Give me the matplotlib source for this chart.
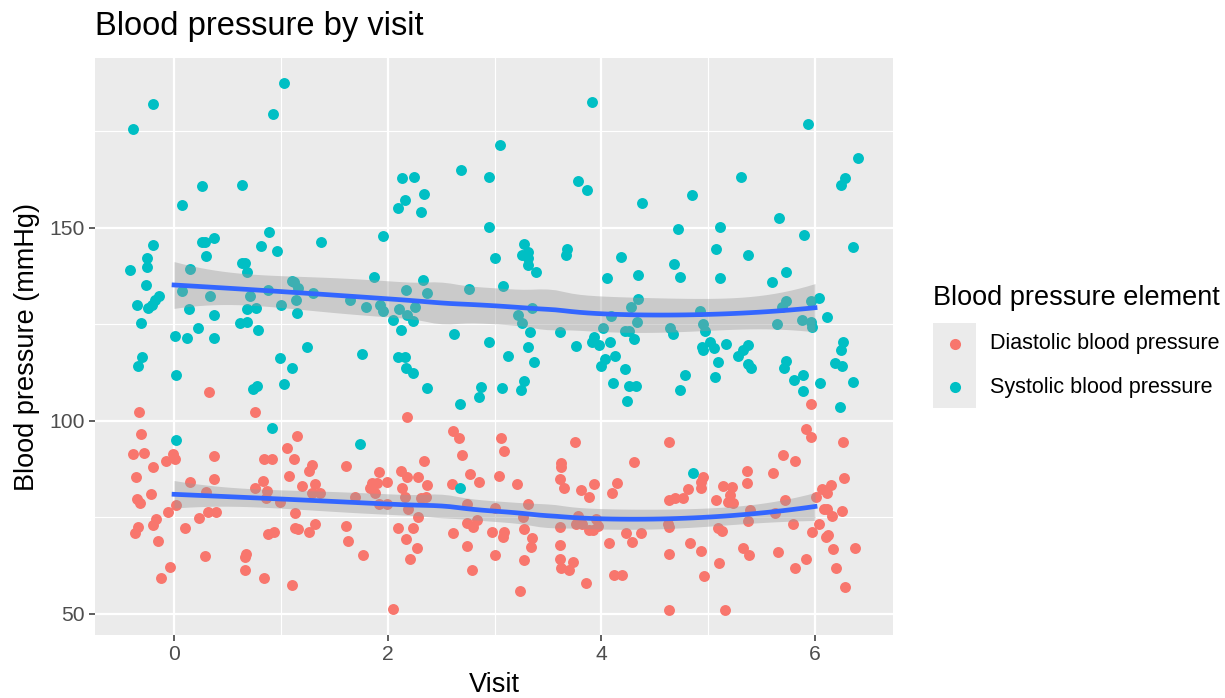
import numpy as np
import matplotlib
matplotlib.use("Agg")
from matplotlib import pyplot as plt
from matplotlib.patches import Rectangle
from matplotlib.lines import Line2D

plt.rcParams['font.family'] = ['Liberation Sans', 'DejaVu Sans']

# jittered visit positions and readings
systolic_visit = [
    -0.20, -0.38, 0.26, 0.07, -0.20, 0.26, 0.29, 0.37, 0.30, -0.25, -0.25, -0.41, 0.15, -0.26,
    -0.14, -0.18, -0.21, -0.24, -0.35, 0.07, 0.34, 0.14, 0.37, -0.31, 0.22, 0.01, 0.12, 0.37,
    -0.30, -0.34, 0.02, 0.02,
    1.03, 0.93, 0.64, 0.89, 0.81, 0.96, 0.64, 0.66, 0.68, 0.71, 0.88, 1.10, 1.00, 0.68, 0.77,
    0.62, 0.68, 0.79, 0.99, 1.10, 0.74, 0.78, 1.03, 0.92, 1.12, 1.16, 1.14, 1.30, 1.38, 1.15, 1.24,
    1.96, 1.87, 1.65, 1.80, 1.93, 1.96, 1.76, 2.13, 2.25, 2.69, 2.16, 2.10, 2.34, 2.31, 2.33,
    2.17, 2.37, 2.11, 2.26, 2.05, 2.18, 2.24, 2.12, 2.10, 2.16, 2.17, 2.24, 1.74, 2.37,
    2.95, 2.95, 2.76, 2.62, 2.95, 2.68, 2.87, 2.85, 2.68, 3.05, 3.28, 3.26, 3.31, 3.31, 3.31,
    3.39, 3.00, 3.08, 3.35, 3.22, 3.26, 3.33, 3.31, 3.13, 3.37, 3.07, 3.25, 3.28,
    3.91, 3.78, 3.87, 4.38, 3.68, 3.67, 4.18, 4.34, 4.05, 4.34, 4.28, 4.09, 4.02, 4.22, 4.26,
    4.33, 4.31, 3.61, 3.76, 3.93, 3.91, 3.98, 4.08, 4.13, 4.03, 4.00, 4.22, 4.11, 4.26, 4.32, 4.24,
    4.72, 4.68, 4.74, 4.64, 4.67, 4.74, 4.78, 5.31, 4.85, 5.11, 5.07, 5.37, 5.11, 4.92, 4.95,
    4.97, 5.17, 5.02, 4.94, 4.95, 5.05, 5.37, 5.33, 5.28, 5.09, 5.37, 5.40, 5.06, 4.86,
    5.93, 6.40, 6.28, 6.24, 5.66, 5.90, 6.36, 5.73, 5.60, 5.73, 5.69, 5.96, 6.04, 5.64, 5.88,
    5.96, 5.97, 6.11, 6.26, 6.24, 5.73, 5.71, 6.19, 6.25, 5.80, 5.89, 5.89, 6.05, 6.36, 6.23,
]
systolic_bp = [
    182.0, 175.6, 160.9, 156.0, 145.6, 146.4, 146.4, 147.4, 142.7, 142.2, 139.9, 139.1, 139.4, 135.2,
    132.4, 131.3, 130.0, 129.3, 130.0, 133.7, 132.4, 129.0, 127.5, 125.4, 124.1, 122.0, 121.5, 121.5,
    116.6, 114.2, 111.9, 95.1,
    187.6, 179.5, 161.1, 149.0, 145.3, 144.0, 140.9, 140.9, 138.6, 132.4, 134.0, 136.3, 130.0, 129.0, 129.3,
    125.4, 125.6, 123.6, 116.3, 113.7, 108.3, 109.1, 109.6, 98.2, 136.0, 134.5, 131.3, 133.2, 146.4, 128.0, 119.2,
    147.9, 137.3, 131.3, 129.5, 130.0, 128.5, 117.4, 163.0, 163.2, 165.0, 157.3, 155.2, 158.8, 154.1, 136.5,
    134.0, 133.2, 129.0, 129.5, 126.2, 127.5, 125.9, 123.6, 116.6, 116.6, 113.7, 112.5, 94.0, 108.5,
    163.2, 150.3, 134.2, 122.5, 120.5, 104.4, 108.8, 106.2, 82.6, 171.5, 145.9, 143.0, 143.8, 142.2, 140.4,
    138.6, 142.2, 135.0, 129.3, 127.5, 125.4, 123.1, 119.2, 116.8, 115.3, 108.5, 108.0, 110.4,
    182.6, 162.2, 159.8, 156.5, 144.6, 143.0, 142.5, 137.8, 137.0, 131.6, 129.5, 127.2, 124.1, 123.3, 123.3,
    125.6, 121.2, 123.1, 119.4, 121.8, 120.5, 119.7, 120.5, 116.8, 116.0, 114.2, 113.5, 109.8, 109.1, 109.1, 105.2,
    149.7, 140.7, 137.3, 124.1, 122.5, 108.0, 111.9, 163.2, 158.5, 150.3, 144.6, 143.0, 137.0, 128.5, 125.1,
    123.3, 120.0, 120.5, 119.2, 118.4, 118.9, 119.7, 118.4, 116.8, 115.3, 114.8, 113.7, 111.4, 86.5,
    177.0, 168.1, 163.0, 161.1, 152.6, 148.2, 145.1, 138.6, 136.0, 131.1, 129.5, 131.1, 131.9, 125.1, 126.2,
    125.6, 124.4, 126.9, 120.5, 118.4, 115.5, 113.7, 115.0, 114.2, 110.6, 111.9, 107.8, 109.8, 110.1, 103.6,
]

diastolic_visit = [
    0.33, -0.33, -0.31, -0.38, -0.28, -0.01, -0.08, 0.01, 0.37, -0.20, -0.36, -0.35, -0.32, -0.22,
    0.15, 0.37, 0.30, 0.02, -0.06, 0.23, 0.32, 0.39, -0.17, -0.20, -0.34, -0.37, 0.10, -0.15, 0.29,
    -0.04, -0.12,
    0.76, 0.84, 0.92, 1.06, 1.15, 1.08, 0.83, 0.76, 0.87, 0.86, 0.99, 1.13, 1.13, 0.88, 0.94,
    0.67, 0.66, 0.66, 0.84, 1.10, 1.12, 1.29, 1.26, 1.20, 1.32, 1.37, 1.29, 1.32, 1.16, 1.26,
    1.61, 1.92, 2.12, 2.18, 2.28, 2.34, 2.18, 1.85, 1.90, 1.99, 1.83, 1.88, 1.69, 2.13, 2.37,
    2.16, 2.36, 2.31, 1.92, 1.99, 2.19, 2.28, 1.61, 2.10, 2.24, 1.63, 2.17, 2.27, 1.77, 2.21, 2.05,
    2.61, 2.67, 2.70, 2.77, 2.85, 2.60, 2.74, 2.84, 2.74, 2.80, 2.61, 2.74, 2.79, 3.06, 3.09,
    3.04, 3.21, 3.31, 3.00, 3.27, 2.98, 3.09, 3.08, 3.28, 3.35, 3.34, 3.00, 3.28, 3.24,
    3.75, 4.31, 3.62, 3.62, 3.61, 3.65, 3.81, 3.88, 3.93, 4.15, 4.10, 3.78, 3.76, 3.82, 3.88,
    3.92, 3.97, 3.95, 3.61, 4.23, 4.37, 4.29, 4.07, 3.61, 3.61, 3.62, 3.73, 3.70, 4.12, 4.19, 3.86,
    4.63, 4.63, 4.69, 4.76, 4.62, 4.63, 4.63, 4.63, 5.36, 5.36, 4.95, 4.93, 4.93, 4.81, 5.14,
    5.22, 5.20, 5.19, 5.23, 5.07, 5.39, 5.37, 5.09, 5.13, 4.83, 4.93, 5.33, 5.38, 5.10, 4.96, 5.16,
    5.96, 5.92, 5.96, 6.26, 5.70, 5.81, 6.27, 5.61, 5.72, 5.63, 6.07, 6.15, 6.11, 6.01, 6.08,
    6.11, 6.16, 6.25, 5.79, 6.04, 5.97, 6.12, 6.10, 5.65, 6.17, 6.37, 5.92, 5.81, 6.20, 6.28,
]
diastolic_bp = [
    107.5, 102.3, 96.6, 91.5, 91.7, 91.5, 89.6, 90.2, 90.9, 88.1, 85.5, 79.8, 78.8, 81.1,
    84.2, 85.0, 81.6, 78.2, 76.4, 74.9, 76.4, 76.4, 74.6, 73.1, 72.5, 71.0, 72.3, 68.9, 65.0,
    62.2, 59.3,
    102.3, 90.2, 90.2, 93.0, 96.0, 85.8, 84.5, 82.6, 81.9, 80.1, 79.0, 76.2, 72.3, 70.7, 71.2,
    65.5, 64.8, 61.4, 59.3, 57.5, 90.2, 88.6, 87.0, 83.2, 83.7, 81.3, 81.3, 73.3, 72.0, 71.2,
    88.3, 86.8, 87.0, 85.5, 85.5, 89.6, 101.0, 83.9, 83.9, 84.2, 82.6, 81.3, 80.3, 82.6, 83.4,
    80.3, 80.3, 80.1, 78.5, 78.5, 77.2, 75.1, 72.8, 72.3, 72.3, 68.9, 69.4, 67.1, 65.3, 64.2, 51.3,
    97.4, 95.6, 91.2, 86.3, 84.2, 83.7, 78.5, 74.4, 73.6, 72.5, 71.0, 67.6, 61.4, 95.6, 92.2,
    85.8, 83.7, 78.5, 77.5, 75.1, 71.2, 71.2, 69.9, 72.0, 69.7, 67.4, 65.3, 64.0, 56.0,
    94.6, 89.4, 89.1, 88.1, 85.0, 82.6, 82.1, 80.3, 83.7, 83.9, 81.3, 75.4, 73.3, 73.3, 71.8,
    71.8, 72.8, 74.6, 72.5, 71.0, 71.0, 68.7, 68.4, 67.9, 64.2, 61.9, 63.5, 61.4, 60.1, 60.1, 58.0,
    94.6, 79.5, 80.1, 80.1, 73.3, 72.5, 65.5, 51.0, 87.0, 83.9, 85.5, 84.2, 82.6, 82.4, 83.2,
    82.9, 80.8, 79.0, 78.8, 79.5, 77.0, 74.1, 72.3, 71.5, 68.4, 66.3, 67.1, 65.3, 63.2, 59.8, 51.0,
    104.4, 97.9, 95.9, 94.6, 91.2, 89.6, 85.2, 86.5, 79.5, 76.2, 82.4, 83.4, 81.3, 80.3, 77.2,
    77.2, 75.4, 76.7, 73.3, 73.3, 71.2, 70.5, 70.0, 66.1, 66.8, 67.1, 64.2, 61.9, 61.9, 57.0,
]

series_names = ['Diastolic blood pressure', 'Systolic blood pressure']
series_colors = ['#F8766D', '#00BFC4']


def loess_fit(x, y, grid, span=0.75):
    """Local quadratic loess with tricube weights, plus standard errors."""
    n = len(x)
    q = int(np.floor(n * span))

    def rows(points):
        out = np.zeros((len(points), n))
        for i, x0 in enumerate(points):
            d = np.abs(x - x0)
            h = np.sort(d)[q - 1]
            w = np.clip(1 - (d / h) ** 3, 0, None) ** 3
            X = np.column_stack([np.ones(n), x - x0, (x - x0) ** 2])
            XtW = X.T * w
            out[i] = np.linalg.solve(XtW @ X, XtW)[0]
        return out

    L = rows(x)
    resid = y - L @ y
    dof = n - 2 * np.trace(L) + np.trace(L.T @ L)
    sigma = np.sqrt(np.sum(resid ** 2) / dof)
    G = rows(grid)
    fit = G @ y
    se = sigma * np.sqrt(np.sum(G ** 2, axis=1))
    return fit, se


fig = plt.figure(figsize=(12.25, 6.98), dpi=100)
ax = fig.add_axes([95 / 1225, 1 - 635 / 698, (893 - 95) / 1225, (635 - 58) / 698])
ax.set_facecolor('#EBEBEB')
for s in ax.spines.values():
    s.set_visible(False)

grid = np.linspace(0, 6, 80)
for vis, bp, col in [(diastolic_visit, diastolic_bp, series_colors[0]),
                     (systolic_visit, systolic_bp, series_colors[1])]:
    ax.scatter(vis, bp, s=62, color=col, linewidths=0, zorder=3)

for vis, bp in [(diastolic_visit, diastolic_bp), (systolic_visit, systolic_bp)]:
    x = np.rint(np.array(vis))
    fit, se = loess_fit(x, np.array(bp), grid)
    ax.fill_between(grid, fit - 1.97 * se, fit + 1.97 * se, color='#999999', alpha=0.4,
                    linewidth=0, zorder=4)
    ax.plot(grid, fit, color='#3366FF', lw=3.4, zorder=5)

ax.set_xlim(-0.74, 6.73)
ax.set_ylim(44.56, 194.0)
ax.set_xticks([0, 2, 4, 6])
ax.set_yticks([50, 100, 150])
ax.set_xticks([1, 3, 5], minor=True)
ax.set_yticks([75, 125, 175], minor=True)
ax.grid(which='major', color='white', lw=1.6, zorder=0)
ax.grid(which='minor', color='white', lw=0.8, zorder=0)
ax.set_axisbelow(True)
ax.tick_params(which='major', length=4.5, width=1.1, color='#333333',
               labelsize=15.2, labelcolor='#4D4D4D', pad=3)
ax.tick_params(which='minor', length=0)

ax.set_xlabel('Visit', fontsize=19.5, va='center')
ax.set_ylabel('Blood pressure (mmHg)', fontsize=19.5, va='center')
ax.xaxis.set_label_coords((494 - 95) / 798, (635 - 685) / 577)
ax.yaxis.set_label_coords((27 - 95) / 798, (635 - 347) / 577)
fig.text(95 / 1225, 1 - 27 / 698, 'Blood pressure by visit', fontsize=23.5, va='center', ha='left')

# legend
fig.text(933 / 1225, 1 - 298 / 698, 'Blood pressure element', fontsize=19.5, va='center')
fig.add_artist(Rectangle((933 / 1225, 1 - 408 / 698), 43 / 1225, 85 / 698,
                         transform=fig.transFigure, facecolor='#EBEBEB', edgecolor='none'))
for i, (name, col) in enumerate(zip(series_names, series_colors)):
    yy = 1 - (344 + 43 * i) / 698
    fig.add_artist(Line2D([955 / 1225], [yy], transform=fig.transFigure, marker='o',
                          markersize=8, color=col, markeredgewidth=0, linestyle='none'))
    fig.text(990 / 1225, yy, name, fontsize=15.5, va='center')

fig.savefig('out.png', dpi=100)
